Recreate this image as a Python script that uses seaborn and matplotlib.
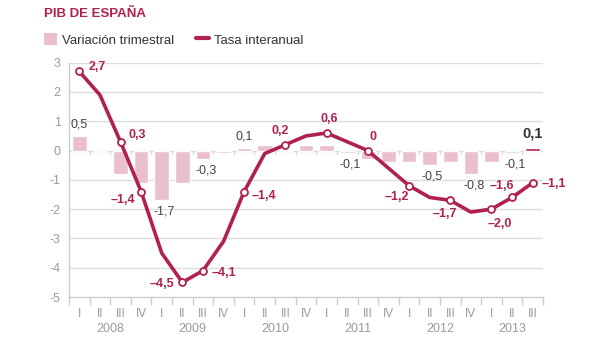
import matplotlib
matplotlib.use("Agg")
import matplotlib.pyplot as plt
import matplotlib.transforms as mtransforms
from matplotlib.patches import Patch
from matplotlib.lines import Line2D
import seaborn as sns
import numpy as np
import pandas as pd

quarters = ["I", "II", "III", "IV"] * 5 + ["I", "II", "III"]
years = ["2008", "2009", "2010", "2011", "2012", "2013"]
trimestral = [0.5, 0.0, -0.8, -1.1, -1.7, -1.1, -0.3, -0.1, 0.1, 0.2, 0.0, 0.2,
              0.2, -0.1, -0.3, -0.4, -0.4, -0.5, -0.4, -0.8, -0.4, -0.1, 0.1]
interanual = [2.7, 1.9, 0.3, -1.4, -3.5, -4.5, -4.1, -3.1, -1.4, -0.1, 0.2, 0.5,
              0.6, 0.3, 0.0, -0.6, -1.2, -1.6, -1.7, -2.1, -2.0, -1.6, -1.1]
# labelled points of the line: index -> (text, dx, dy) offsets in points
line_labels = {0: ("2,7", 13, 3), 2: ("0,3", 12, 5), 3: ("\u20131,4", -13, -6),
               5: ("\u20134,5", -15, -1), 6: ("\u20134,1", 15, -2), 8: ("\u20131,4", 14, -3),
               10: ("0,2", -4, 10), 12: ("0,6", 2, 10), 14: ("0", 4, 10),
               16: ("\u20131,2", -9, -8), 18: ("\u20131,7", -4, -10), 20: ("\u20132,0", 6, -11),
               21: ("\u20131,6", -7, 8), 22: ("\u20131,1", 15, -1)}
bar_labels = {0: "0,5", 4: "-1,7", 6: "-0,3", 8: "0,1", 13: "-0,1", 17: "-0,5",
              19: "-0,8", 21: "-0,1", 22: "0,1"}

CRIMSON = "#B0214F"
PINK = "#EBC0CD"
GRID = "#DCDCDC"
TICK = "#9A9A9A"

sns.set_theme(style="white")
plt.rcParams["font.family"] = ["Liberation Sans", "DejaVu Sans"]

fig = plt.figure(figsize=(6.15, 3.4), dpi=100)
ax = fig.add_axes([69 / 615, 1 - 297 / 340, (543 - 69) / 615, (297 - 62.7) / 340])

n = len(trimestral)
idx = np.arange(n)
df = pd.DataFrame({"q": idx, "trim": trimestral, "inter": interanual})
colors = [PINK] * (n - 1) + [CRIMSON]

for y in range(-4, 4):
    ax.axhline(y, color=GRID, lw=1, zorder=0)

sns.barplot(data=df, x="q", y="trim", hue="q", palette=colors, legend=False,
            width=0.71, ax=ax, zorder=2, saturation=1, native_scale=True)

# small ticks on the zero line
for b in np.arange(-0.5, n, 1):
    ax.plot([b, b], [0, -0.12], color=GRID, lw=1, zorder=1)

sns.lineplot(data=df, x="q", y="inter", color=CRIMSON, lw=2.6, ax=ax, zorder=4)
mk = [i for i in line_labels]
ax.plot(idx[mk], np.array(interanual)[mk], "o", ms=5, mfc="white", mec=CRIMSON,
        mew=1.3, zorder=5, ls="none")

for i, (t, dx, dy) in line_labels.items():
    ax.annotate(t, (i, interanual[i]), xytext=(dx, dy), textcoords="offset points",
                ha="center", va="center", color=CRIMSON, fontsize=9, fontweight="bold")

for i, t in bar_labels.items():
    v = trimestral[i]
    if i == n - 1:
        ax.annotate(t, (i, v), xytext=(0, 10), textcoords="offset points", ha="center",
                    va="center", color="#333333", fontsize=10.5, fontweight="bold")
    elif v >= 0:
        ax.annotate(t, (i, v), xytext=(0, 8), textcoords="offset points", ha="center",
                    va="center", color="#444444", fontsize=9)
    else:
        ax.annotate(t, (i, v), xytext=(2, -8), textcoords="offset points", ha="center",
                    va="center", color="#444444", fontsize=9)

ax.set_xlim(-0.5, n - 0.5)
ax.set_ylim(-5, 3)
ax.set_yticks(range(-5, 4))
ax.set_yticklabels([str(v) for v in range(-5, 4)], color=TICK, fontsize=9)
ax.set_xticks(np.arange(-0.5, n, 1))
ax.set_xticklabels([])
ax.set_xticks(idx, minor=True)
ax.set_xticklabels(quarters, minor=True, color=TICK, fontsize=8.5)
ax.tick_params(axis="x", which="major", length=6, color="#CCCCCC", width=1, direction="out", bottom=True)
ax.tick_params(axis="x", which="minor", length=0, pad=8)
ax.tick_params(axis="y", length=0, pad=6)
ax.set_xlabel("")
ax.set_ylabel("")
for s in ["top", "right"]:
    ax.spines[s].set_visible(False)
for s in ["left", "bottom"]:
    ax.spines[s].set_color("#CCCCCC")
    ax.spines[s].set_linewidth(1)

trans = mtransforms.blended_transform_factory(ax.transData, ax.transAxes)
for k, yr in enumerate(years):
    members = [i for i in range(n) if i // 4 == k]
    ax.text(np.mean(members), -0.135, yr, transform=trans, ha="center", va="center",
            color=TICK, fontsize=9)

fig.text(44 / 615, 1 - 14 / 340, "PIB DE ESPAÑA", color=CRIMSON, fontsize=9.5,
         fontweight="bold", va="center", ha="left")
handles = [Patch(facecolor=PINK, edgecolor="none"), Line2D([0], [0], color=CRIMSON, lw=3)]
fig.legend(handles, ["Variación trimestral", "Tasa interanual"], loc="center left",
           bbox_to_anchor=(32 / 615, 1 - 40 / 340), ncol=2, frameon=False,
           fontsize=9.5, handlelength=1.0, handleheight=1.0, handletextpad=0.4,
           columnspacing=1.6, labelcolor="#333333")

fig.savefig("out.png", dpi=100)
